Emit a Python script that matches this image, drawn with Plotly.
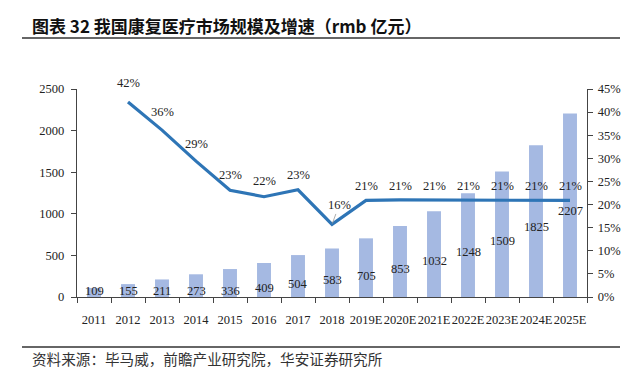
import plotly.graph_objects as go

years = ["2011", "2012", "2013", "2014", "2015", "2016", "2017", "2018",
         "2019E", "2020E", "2021E", "2022E", "2023E", "2024E", "2025E"]
market_size = [109, 155, 211, 273, 336, 409, 504, 583, 705, 853, 1032, 1248, 1509, 1825, 2207]
growth_years = years[1:]
growth_pct = [42.2, 36.1, 29.4, 23.1, 21.7, 23.2, 15.7, 20.9, 21.0, 21.0, 20.9, 20.9, 20.9, 20.9]
growth_labels = ["42%", "36%", "29%", "23%", "22%", "23%", "16%", "21%", "21%", "21%", "21%", "21%", "21%", "21%"]

# label placement (styling, in axis units)
bar_label_y = [72, 72, 72, 72, 72, 108, 156, 204, 252, 337, 433, 541, 673, 841, 1034]
growth_label_y = [46.3, 40.0, 33.0, 26.3, 25.0, 26.3, None, 24.1, 24.1, 24.1, 24.1, 24.1, 24.1, 24.1]

SERIF = "Liberation Serif"
TXT = "#222222"

# page body has an 8px margin: work in page pixels and subtract it
OFF = 8
W, H = 641 - OFF, 374 - OFF
L, R, T, B = 77 - OFF, 54, 89 - OFF, 77
pw, ph = W - L - R, H - T - B
def px(x):
    return (x - OFF - L) / pw
def py(y):
    return (H - B - (y - OFF)) / ph

fig = go.Figure()
fig.add_trace(go.Bar(x=years, y=market_size, marker=dict(color="#A5B9E2", line=dict(width=0)),
                     width=0.41, yaxis="y", showlegend=False, hoverinfo="x+y"))
fig.add_trace(go.Scatter(x=growth_years, y=growth_pct, mode="lines", yaxis="y2",
                         line=dict(color="#2E75B6", width=3.2), showlegend=False))

ann = []
for i, (v, ly) in enumerate(zip(market_size, bar_label_y)):
    ann.append(dict(x=i, y=ly, xref="x", yref="y", text=str(v), showarrow=False,
                    font=dict(family=SERIF, size=12.5, color=TXT)))
for j, (v, lab, ly) in enumerate(zip(growth_pct, growth_labels, growth_label_y)):
    i = j + 1
    f = dict(family=SERIF, size=12.5, color=TXT)
    if ly is None:
        ann.append(dict(x=i, y=v, xref="x", yref="y2", text=lab, showarrow=True,
                        arrowhead=0, arrowwidth=0.8, arrowcolor="#999999",
                        ax=7, ay=-19, standoff=1, font=f))
    elif ly > 45:
        ann.append(dict(x=i, y=v, xref="x", yref="y2", text=lab, showarrow=False,
                        yshift=(ly - v) * ph / 45, font=f))
    else:
        ann.append(dict(x=i, y=ly, xref="x", yref="y2", text=lab, showarrow=False, font=f))

ann.append(dict(x=px(31), y=py(25), xref="paper", yref="paper",
                text="<b>图表 32 我国康复医疗市场规模及增速（rmb 亿元）</b>",
                showarrow=False, xanchor="left", yanchor="middle", borderpad=0,
                font=dict(family="Noto Sans CJK SC", size=17, color="#111111")))
ann.append(dict(x=px(31), y=py(358), xref="paper", yref="paper",
                text="资料来源：毕马威，前瞻产业研究院，华安证券研究所",
                showarrow=False, xanchor="left", yanchor="middle", borderpad=0,
                font=dict(family="Noto Sans CJK SC", size=14.6, color="#333333")))

shapes = [
    dict(type="line", xref="paper", yref="paper", x0=px(22), x1=px(620), y0=py(38), y1=py(38),
         line=dict(color="#333333", width=1.3)),
    dict(type="line", xref="paper", yref="paper", x0=px(22), x1=px(620), y0=py(347), y1=py(347),
         line=dict(color="#333333", width=1.3)),
]

fig.update_layout(
    width=W, height=H, margin=dict(l=L, r=R, t=T, b=B),
    paper_bgcolor="white", plot_bgcolor="white",
    bargap=0.59, annotations=ann, shapes=shapes,
    xaxis=dict(type="category", range=[-0.5, 14.5], showline=True, linecolor="#444444", linewidth=1.3,
               ticks="outside", tickson="boundaries", ticklen=5, tickcolor="#444444", tickangle=0,
               tickfont=dict(family=SERIF, size=12.5, color=TXT), ticklabelstandoff=11,
               showgrid=False, zeroline=False),
    yaxis=dict(range=[0, 2500], dtick=500, showline=True, linecolor="#444444", linewidth=1.3,
               ticks="outside", ticklen=5, tickcolor="#444444", showgrid=False, zeroline=False,
               tickfont=dict(family=SERIF, size=12.5, color=TXT), ticklabelstandoff=4),
    yaxis2=dict(range=[0, 45], dtick=5, overlaying="y", side="right", showline=True,
                linecolor="#444444", linewidth=1.3, ticks="outside", ticklen=5, tickcolor="#444444",
                ticksuffix="%", showgrid=False, zeroline=False,
                tickfont=dict(family=SERIF, size=12.5, color=TXT), ticklabelstandoff=2),
)

fig.write_html("out.html")
